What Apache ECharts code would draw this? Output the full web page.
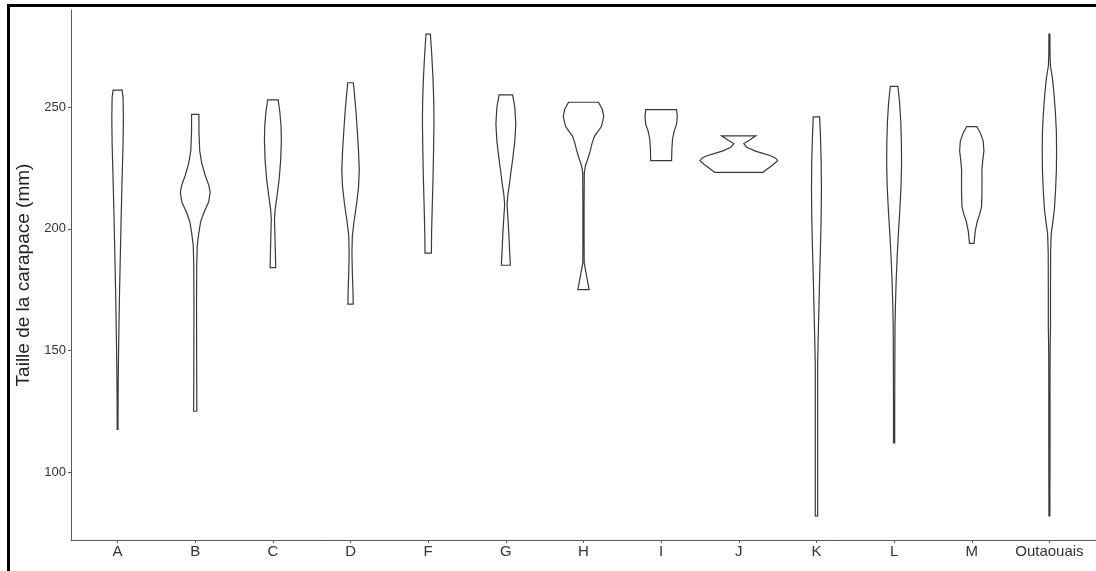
<!DOCTYPE html>
<html>
<head>
<meta charset="utf-8">
<script src="https://cdn.jsdelivr.net/npm/echarts@6/dist/echarts.min.js"></script>
<style>
  html, body { margin: 0; padding: 0; background: #fff; }
  #chart { width: 1096px; height: 571px; }
</style>
</head>
<body>
<div id="chart"></div>
<script>
// categories (sites)
var categories = ['A', 'B', 'C', 'D', 'F', 'G', 'H', 'I', 'J', 'K', 'L', 'M', 'Outaouais'];
var yTicks = [100, 150, 200, 250];

// violin outlines: [taille (mm), demi-largeur de densité]
var violinA = [[257, 4.5], [254, 5.5], [245, 5.8], [235, 5.5], [220, 4.5], [205, 3.6], [190, 2.8], [175, 2.0], [160, 1.4], [150, 1.0], [140, 0.7], [130, 0.5], [117.5, 0.4]];
var violinB = [[247, 3.7], [240, 3.7], [232, 4.5], [227, 6.5], [222, 10], [218, 13.5], [215, 15], [211, 13.5], [207, 9], [203, 5.5], [198, 3.5], [193, 2], [185, 1.5], [170, 1.3], [150, 1.4], [135, 1.5], [125, 1.6]];
var violinC = [[253, 5.3], [248, 7], [242, 8.2], [236, 8.5], [228, 7.8], [220, 6.2], [213, 4], [208, 2.3], [204, 1.6], [198, 2], [190, 2.5], [184, 2.8]];
var violinD = [[260, 2.8], [255, 4], [248, 5.5], [240, 6.8], [232, 8], [224, 8.8], [217, 8], [210, 6], [203, 3.5], [197, 1.8], [190, 1.4], [182, 1.8], [175, 2.4], [169, 2.7]];
var violinF = [[280, 2.2], [272, 3.5], [262, 4.8], [252, 5.6], [244, 5.8], [232, 5.4], [220, 4.8], [208, 4], [198, 3.4], [190, 3.2]];
var violinG = [[255, 6.8], [250, 9], [243, 10], [236, 9], [229, 7], [223, 5], [218, 3.5], [214, 2], [210, 1.2], [205, 2], [198, 3], [191, 3.8], [185, 4.5]];
var violinH = [[252, 15], [249, 19], [246, 20.3], [242, 18], [238, 11], [235, 8.5], [232, 6.8], [229, 4.5], [226, 2], [223, 0.8], [210, 0.6], [195, 0.6], [186, 0.7], [182, 2.5], [178, 4.3], [175, 5.7]];
var violinI = [[249, 15.5], [246, 16.2], [243, 15.5], [240, 13], [237, 11.5], [233, 10.8], [228, 10.5]];
var violinJ = [[238.2, 17.2], [236.5, 11], [235, 5], [233.5, 8], [232, 16], [231, 24], [230, 32], [229, 37], [228, 39], [226.5, 35], [225, 30], [223.2, 24.2]];
var violinK = [[246, 3.2], [238, 4], [228, 4.7], [216, 5], [204, 4.7], [192, 4], [180, 3.2], [168, 2.5], [156, 1.8], [144, 1.2], [130, 1.2], [110, 1.2], [95, 1.2], [82, 1.2]];
var violinL = [[258.5, 3.8], [252, 5.5], [244, 6.7], [236, 7.3], [227, 7.5], [218, 7], [208, 5.8], [198, 4.3], [188, 3], [178, 2], [168, 1.3], [160, 0.9], [140, 0.7], [125, 0.6], [112, 0.6]];
var violinM = [[242, 5], [239.5, 8.5], [236, 11.5], [232, 12.2], [228, 11], [224, 10.2], [219, 10.3], [214, 10.2], [209, 9.8], [206, 8], [203, 5.5], [199, 3.5], [194, 2.3]];
var violinOutaouais = [[280, 0.5], [272, 0.6], [267, 1], [262, 3], [256, 4.5], [248, 6], [240, 7], [232, 7.2], [224, 7], [216, 6.2], [208, 5], [202, 3.2], [198, 1.8], [190, 1.2], [175, 1.1], [160, 1.1], [150, 0.7], [130, 0.6], [110, 0.6], [82, 0.5]];

var violins = [violinA, violinB, violinC, violinD, violinF, violinG, violinH, violinI, violinJ, violinK, violinL, violinM, violinOutaouais];
var densityScale = 78; // densité -> largeur en unités de catégorie

var chart = echarts.init(document.getElementById('chart'));

var option = {
  backgroundColor: '#fff',
  animation: false,
  grid: { left: 71, top: 10, width: 1028, height: 530 },
  graphic: [{
    type: 'rect',
    shape: { x: 8.5, y: 5.5, width: 1120, height: 600 },
    style: { fill: 'none', stroke: '#000', lineWidth: 3 },
    silent: true
  }],
  xAxis: {
    type: 'value',
    min: -0.6,
    max: 12.6,
    splitLine: { show: false },
    axisLine: { onZero: false, lineStyle: { color: '#5a5a5a', width: 1 } },
    axisTick: { show: true, length: 3, customValues: categories.map(function (c, i) { return i; }), lineStyle: { color: '#5a5a5a' } },
    axisLabel: {
      customValues: categories.map(function (c, i) { return i; }),
      formatter: function (v) { return categories[Math.round(v)]; },
      color: '#333',
      fontFamily: 'Liberation Sans, Arial, sans-serif',
      fontSize: 15,
      margin: 4
    }
  },
  yAxis: {
    type: 'value',
    min: 72.1,
    max: 289.9,
    name: 'Taille de la carapace (mm)',
    nameLocation: 'middle',
    nameGap: 38,
    nameTextStyle: { color: '#222', fontFamily: 'Liberation Sans, Arial, sans-serif', fontSize: 19 },
    splitLine: { show: false },
    axisLine: { show: true, onZero: false, lineStyle: { color: '#5a5a5a', width: 1 } },
    axisTick: { show: true, length: 3, customValues: yTicks, lineStyle: { color: '#5a5a5a' } },
    axisLabel: {
      customValues: yTicks,
      color: '#333',
      fontFamily: 'Liberation Sans, Arial, sans-serif',
      fontSize: 13,
      margin: 5
    }
  },
  series: [{
    type: 'custom',
    data: categories.map(function (c, i) { return [i]; }),
    encode: { x: 0 },
    clip: false,
    renderItem: function (params, api) {
      var i = params.dataIndex;
      var prof = violins[i];
      var pts = [];
      var k;
      for (k = 0; k < prof.length; k++) {
        pts.push(api.coord([i + prof[k][1] / densityScale, prof[k][0]]));
      }
      for (k = prof.length - 1; k >= 0; k--) {
        pts.push(api.coord([i - prof[k][1] / densityScale, prof[k][0]]));
      }
      return {
        type: 'polygon',
        shape: { points: pts, smooth: 0 },
        style: { fill: '#fff', stroke: '#3a3a3a', lineWidth: 1.2 }
      };
    }
  }]
};

chart.setOption(option);
</script>
</body>
</html>
